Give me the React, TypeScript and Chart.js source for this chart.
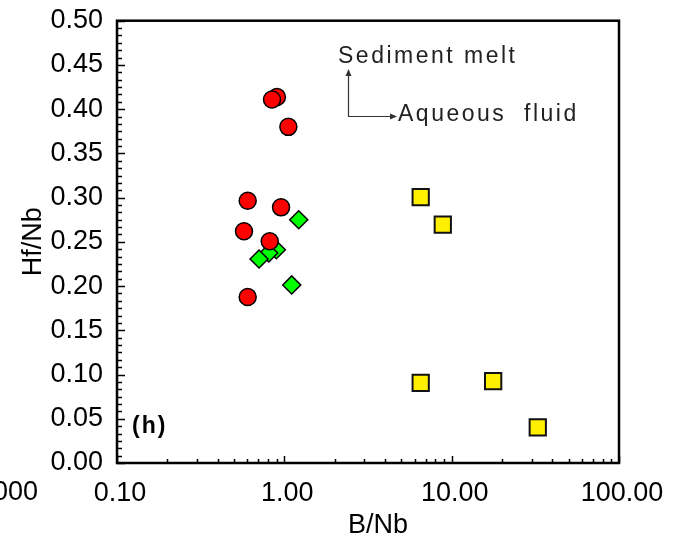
import React, { useEffect, useRef } from "react";
import { Chart, registerables } from "chart.js";

Chart.register(...registerables);

// ---- data ----
const circleX = [0.903, 0.844, 1.057, 0.604, 0.956, 0.574, 0.818, 0.604];
const circleY = [0.4137, 0.411, 0.38, 0.2965, 0.289, 0.262, 0.2506, 0.1877];

const diamondX = [1.219, 0.896, 0.807, 0.706, 1.107];
const diamondY = [0.275, 0.241, 0.2374, 0.2306, 0.2013];

const squareX = [6.53, 8.85, 6.53, 17.7, 32.7];
const squareY = [0.3006, 0.2694, 0.0906, 0.0925, 0.0403];

const xTickValues = [0.1, 1, 10, 100];
const yTickValues = [0, 0.05, 0.1, 0.15, 0.2, 0.25, 0.3, 0.35, 0.4, 0.45, 0.5];
const clippedLeftLabel = "0.0000";

const xTitle = "B/Nb";
const yTitle = "Hf/Nb";
const panelLabel = "(h)";
const annotationUp = "Sediment melt";
const annotationRight = "Aqueous  fluid";

const FONT = "'Liberation Sans', Arial, sans-serif";

const toPoints = (xs: number[], ys: number[]) => xs.map((x, i) => ({ x, y: ys[i] }));

const decoPlugin = {
  id: "deco",
  beforeDatasetsDraw(chart: any) {
    const { ctx, chartArea: a, scales } = chart;
    const x = scales.x;
    const y = scales.y;
    ctx.save();
    ctx.strokeStyle = "#000";
    ctx.lineWidth = 1.5;
    ctx.beginPath();
    // y ticks (inward), major every 0.05, minor 6 per major
    for (let i = 0; i <= 60; i++) {
      const v = (i * 0.5) / 60;
      const py = Math.round(y.getPixelForValue(v)) + 0.5;
      const len = i % 6 === 0 ? 8 : 5;
      ctx.moveTo(a.left, py);
      ctx.lineTo(a.left + len, py);
    }
    // x ticks (inward), decades major, 2..9 minor
    for (let d = 0; d < xTickValues.length; d++) {
      const dec = xTickValues[d];
      const kmax = d === xTickValues.length - 1 ? 1 : 9;
      for (let k = 1; k <= kmax; k++) {
        const px = Math.round(x.getPixelForValue(k * dec)) + 0.5;
        const len = k === 1 ? 7 : 4;
        ctx.moveTo(px, a.bottom);
        ctx.lineTo(px, a.bottom - len);
      }
    }
    ctx.stroke();
    ctx.lineWidth = 2.5;
    ctx.strokeRect(a.left, a.top, a.right - a.left, a.bottom - a.top);
    ctx.restore();
  },
  afterDraw(chart: any) {
    const { ctx } = chart;
    ctx.save();
    ctx.fillStyle = "#000";
    // clipped label at far left
    ctx.font = `27px ${FONT}`;
    ctx.textAlign = "right";
    ctx.textBaseline = "middle";
    ctx.fillText(clippedLeftLabel, 38, 493);
    // x title
    ctx.textAlign = "center";
    ctx.fillText(xTitle, 378, 526);

    // panel label
    (ctx as any).letterSpacing = "2px";
    ctx.font = `bold 23px ${FONT}`;
    ctx.textAlign = "left";
    ctx.textBaseline = "alphabetic";
    ctx.fillText(panelLabel, 132, 433);

    // annotations
    (ctx as any).letterSpacing = "2.5px";
    ctx.font = `23px ${FONT}`;
    ctx.fillStyle = "#222";
    ctx.fillText(annotationUp, 338, 63);
    ctx.fillText(annotationRight, 398, 121);
    (ctx as any).letterSpacing = "0px";

    // arrows
    const cx = 348.5;
    const cy = 116.5;
    ctx.strokeStyle = "#333";
    ctx.fillStyle = "#333";
    ctx.lineWidth = 1.2;
    ctx.beginPath();
    ctx.moveTo(cx, 74);
    ctx.lineTo(cx, cy);
    ctx.lineTo(392, cy);
    ctx.stroke();
    ctx.beginPath();
    ctx.moveTo(cx, 69);
    ctx.lineTo(cx - 3, 76);
    ctx.lineTo(cx + 3, 76);
    ctx.closePath();
    ctx.fill();
    ctx.beginPath();
    ctx.moveTo(397, cy);
    ctx.lineTo(390, cy - 3);
    ctx.lineTo(390, cy + 3);
    ctx.closePath();
    ctx.fill();
    ctx.restore();
  },
};

export default function App() {
  const ref = useRef<HTMLCanvasElement>(null);

  useEffect(() => {
    if (!ref.current) return;
    const chart = new Chart(ref.current, {
      type: "scatter",
      data: {
        datasets: [
          {
            label: "Circles",
            data: toPoints(circleX, circleY),
            pointStyle: "circle",
            pointRadius: 8.5,
            pointHoverRadius: 8.5,
            backgroundColor: "#FF0000",
            borderColor: "#000",
            borderWidth: 1.5,
          },
          {
            label: "Diamonds",
            data: toPoints(diamondX, diamondY),
            pointStyle: "rectRot",
            pointRadius: 9,
            pointHoverRadius: 9,
            backgroundColor: "#00FF00",
            borderColor: "#000",
            borderWidth: 1.5,
          },
          {
            label: "Squares",
            data: toPoints(squareX, squareY),
            pointStyle: "rect",
            pointRadius: 11.5,
            pointHoverRadius: 11.5,
            backgroundColor: "#FFEF00",
            borderColor: "#111",
            borderWidth: 2,
          },
        ],
      },
      options: {
        animation: false,
        responsive: true,
        maintainAspectRatio: false,
        layout: { padding: { left: 0, top: 20.7, right: 67, bottom: 0 } },
        plugins: {
          legend: { display: false },
          tooltip: { enabled: false },
        },
        scales: {
          x: {
            type: "logarithmic",
            min: 0.1,
            max: 100,
            afterBuildTicks: (s: any) => {
              s.ticks = xTickValues.map((v) => ({ value: v }));
            },
            afterFit: (s: any) => {
              s.height = 81;
              s.paddingLeft = 0;
              s.paddingRight = 0;
              s.paddingTop = 0;
              s.paddingBottom = 0;
            },
            grid: { display: false, drawTicks: false },
            border: { display: false },
            ticks: {
              autoSkip: false,
              maxRotation: 0,
              padding: 14,
              labelOffset: 3,
              color: "#000",
              font: { family: FONT, size: 27 },
              callback: (v: any) => Number(v).toFixed(2),
            },
          },
          y: {
            type: "linear",
            min: 0,
            max: 0.5,
            afterBuildTicks: (s: any) => {
              s.ticks = yTickValues.map((v) => ({ value: v }));
            },
            afterFit: (s: any) => {
              s.width = 117;
              s.paddingLeft = 0;
              s.paddingRight = 0;
              s.paddingTop = 0;
              s.paddingBottom = 0;
            },
            grid: { display: false, drawTicks: false },
            border: { display: false },
            title: {
              display: true,
              text: yTitle,
              color: "#000",
              font: { family: FONT, size: 27 },
              padding: { top: 17, bottom: 0 },
            },
            ticks: {
              autoSkip: false,
              padding: 14,
              color: "#000",
              font: { family: FONT, size: 27 },
              callback: (v: any) => Number(v).toFixed(2),
            },
          },
        },
      },
      plugins: [decoPlugin],
    });
    return () => chart.destroy();
  }, []);

  return (
    <div
      style={{
        position: "fixed",
        left: 0,
        top: 0,
        width: 686,
        height: 544,
        background: "#fff",
      }}
    >
      <canvas ref={ref} />
    </div>
  );
}
